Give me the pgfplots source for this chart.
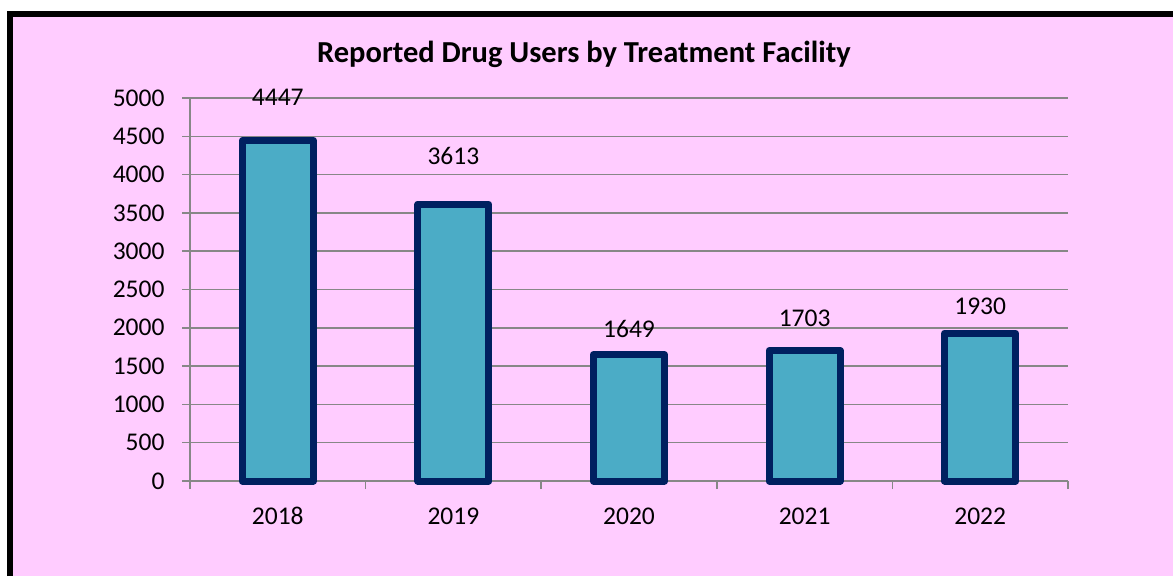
\documentclass[border=0pt]{standalone}
\usepackage{pgfplots}
\pgfplotsset{compat=1.18}
\usepackage{fontspec}
\setmainfont{Carlito}
\definecolor{bgpink}{HTML}{FFCCFF}
\definecolor{barfill}{HTML}{4BACC6}
\definecolor{barline}{HTML}{002060}
\definecolor{gridgray}{HTML}{878787}
\begin{document}
\begin{tikzpicture}[x=1pt,y=1pt]
\useasboundingbox (0,0) rectangle (1173,576);
\fill[white] (0,0) rectangle (1173,576);
\fill[bgpink] (10,0) rectangle (1173,562);
\draw[line width=6pt, black] (10,0) -- (10,562) -- (1173,562);
\node[font=\fontsize{30.5}{36}\selectfont\bfseries, anchor=base, inner sep=0pt] at (584,513) {Reported Drug Users by Treatment Facility};
\begin{axis}[
  at={(190pt,95pt)}, anchor=south west,
  scale only axis, width=878pt, height=383pt,
  xmin=-0.5, xmax=4.5, ymin=0, ymax=5000,
  clip=false,
  axis x line*=bottom, axis y line*=left,
  axis line style={gridgray, line width=1.5pt},
  xtick={0,1,2,3,4},
  xticklabels={2018,2019,2020,2021,2022},
  minor xtick={-0.5,0.5,1.5,2.5,3.5,4.5},
  ytick={0,500,...,5000},
  tick align=outside,
  major tick length=8pt, minor tick length=8pt,
  major x tick style={draw=none},
  tick style={gridgray, line width=1.5pt},
  ymajorgrids,
  major grid style={gridgray, line width=1.5pt},
  ticklabel style={font=\fontsize{25.5}{30}\selectfont},
  yticklabel style={xshift=-14pt},
  xticklabel style={yshift=-15pt},
  /pgf/number format/assume math mode=true,
  /pgf/number format/1000 sep={},
  ybar, bar width=71pt,
]
\addplot[fill=barfill, draw=barline, line width=7pt, line join=round] coordinates {(0,4447) (1,3613) (2,1649) (3,1703) (4,1930)};
\node[font=\fontsize{25.5}{30}\selectfont] at (axis cs:0,5013) {4447};
\node[font=\fontsize{25.5}{30}\selectfont] at (axis cs:1,4243) {3613};
\node[font=\fontsize{25.5}{30}\selectfont] at (axis cs:2,1984) {1649};
\node[font=\fontsize{25.5}{30}\selectfont] at (axis cs:3,2128) {1703};
\node[font=\fontsize{25.5}{30}\selectfont] at (axis cs:4,2285) {1930};
\end{axis}
\end{tikzpicture}
\end{document}
